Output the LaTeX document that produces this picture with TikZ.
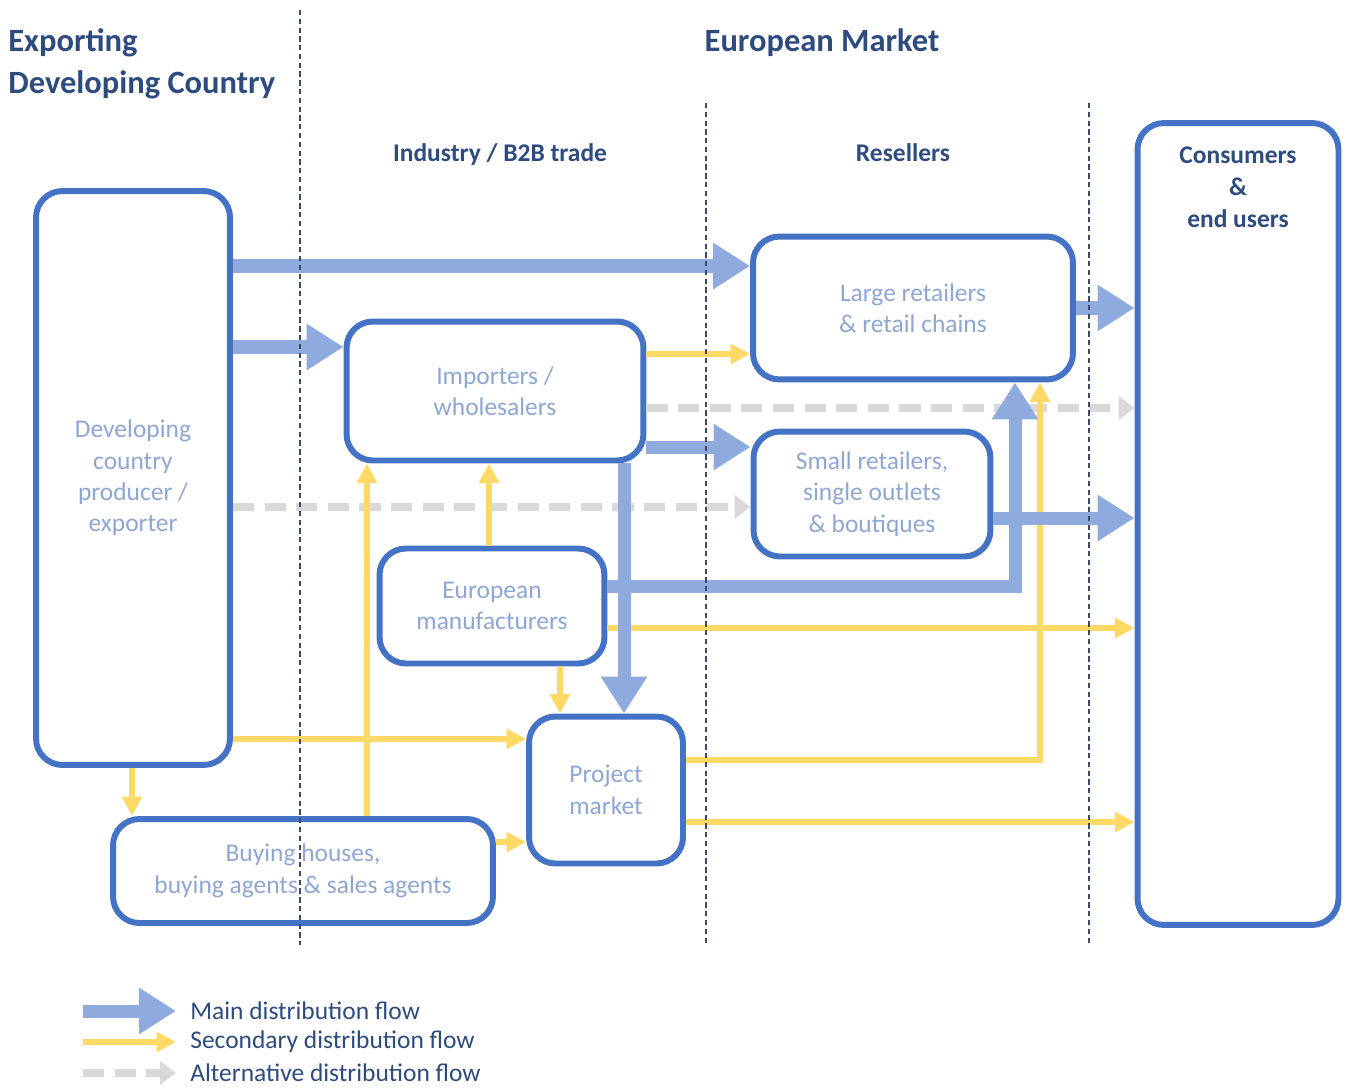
\documentclass[tikz,border=0pt]{standalone}
\usepackage{fontspec}
\setmainfont{Carlito}
\usetikzlibrary{arrows.meta}

\definecolor{boxblue}{HTML}{4472C4}
\definecolor{mainblue}{HTML}{8FAADC}
\definecolor{txtblue}{HTML}{8EA6D2}
\definecolor{headblue}{HTML}{2E4B7E}
\definecolor{secyellow}{HTML}{FFD966}
\definecolor{altgray}{HTML}{D9D9D9}
\definecolor{sepgray}{HTML}{3A4A66}

\tikzset{
	chainbox/.style={draw=boxblue, line width=3.4pt, rounded corners=15pt, align=center, text=txtblue, inner sep=0pt, font=\fontsize{14.5}{17.9}\selectfont},
	heading/.style={text=headblue, inner sep=0pt, font=\bfseries\fontsize{18.5}{23.8}\selectfont},
	subheading/.style={text=headblue, align=center, inner sep=0pt, font=\bfseries\fontsize{14.5}{18.1}\selectfont},
	legtext/.style={text=headblue, anchor=west, inner sep=0pt, font=\fontsize{14.5}{17.9}\selectfont},
	mainflow/.style={draw=mainblue, line width=7.4pt, -{Triangle[length=21pt,width=25pt]}},
	secflow/.style={draw=secyellow, line width=3.2pt, -{Triangle[length=11pt,width=11pt]}},
	altflow/.style={draw=altgray, line width=4pt, dash pattern=on 12pt off 6pt, -{Triangle[length=9pt,width=13pt]}},
	separator/.style={draw=sepgray, line width=0.6pt, dash pattern=on 3pt off 2pt}
}

\begin{document}
\begin{tikzpicture}[x=0.02cm, y=-0.02cm]

	\useasboundingbox (0,0) rectangle (1347,1088);

	% headings
	\node[heading, anchor=west, align=left] (exphead) at (8,64) {Exporting\\Developing Country};
	\node[heading] (euhead) at (822,43) {European Market};
	\node[subheading] (b2bhead) at (500,155) {Industry / B2B trade};
	\node[subheading] (reshead) at (903,153) {Resellers};

	% boxes
	\node[chainbox, minimum width=3.88cm, minimum height=11.48cm] (prod) at (133,478) {Developing\\country\\producer /\\exporter};
	\node[chainbox, minimum width=5.94cm, minimum height=2.78cm] (imp) at (495,391) {Importers /\\wholesalers};
	\node[chainbox, minimum width=6.40cm, minimum height=2.86cm] (large) at (913,308) {Large retailers\\\& retail chains};
	\node[chainbox, minimum width=4.74cm, minimum height=2.50cm] (small) at (872,494) {Small retailers,\\single outlets\\\& boutiques};
	\node[chainbox, minimum width=4.50cm, minimum height=2.30cm] (manu) at (492,606) {European\\manufacturers};
	\node[chainbox, minimum width=3.08cm, minimum height=2.94cm] (proj) at (606,790) {Project\\market};
	\node[chainbox, minimum width=7.60cm, minimum height=2.08cm] (buy) at (303,871) {Buying houses,\\buying agents \& sales agents};
	\node[chainbox, minimum width=4.02cm, minimum height=16.04cm] (cons) at (1238,524) {};
	\node[subheading] (conshead) at (1238,187) {Consumers\\\&\\end users};

	% alternative flows
	\draw[altflow] (prod.east |- 0,507) -- (small.west |- 0,507);
	\draw[altflow] (imp.east |- 0,408) -- (cons.west |- 0,408);

	% secondary flows
	\draw[secflow] (imp.east |- 0,354) -- (large.west |- 0,354);
	\draw[secflow] (buy.north -| 367,0) -- (imp.south -| 367,0);
	\draw[secflow] (manu.north -| 489,0) -- (imp.south -| 489,0);
	\draw[secflow] (manu.east |- 0,628) -- (cons.west |- 0,628);
	\draw[secflow] (manu.south -| 560,0) -- (proj.north -| 560,0);
	\draw[secflow] (prod.east |- 0,739) -- (proj.west |- 0,739);
	\draw[secflow] (prod.south -| 132,0) -- (buy.north -| 132,0);
	\draw[secflow] (buy.east |- 0,842) -- (proj.west |- 0,842);
	\draw[secflow] (proj.east |- 0,760) -| (large.south -| 1040,0);
	\draw[secflow] (proj.east |- 0,822) -- (cons.west |- 0,822);

	% main flows
	\draw[mainflow] (prod.east |- 0,266) -- (large.west |- 0,266);
	\draw[mainflow] (prod.east |- 0,347) -- (imp.west |- 0,347);
	\draw[mainflow] (imp.east |- 0,447) -- (small.west |- 0,447);
	\draw[mainflow] (large.east) -- (cons.west |- large.east);
	\draw[mainflow] (small.east |- 0,518) -- (cons.west |- 0,518);
	\draw[mainflow] (imp.south -| 624,0) -- (proj.north -| 624,0);
	\draw[mainflow] (manu.east |- 0,586) -| (large.south -| 1015,0);

	% separators
	\draw[separator] (300,10) -- (300,945);
	\draw[separator] (706,103) -- (706,945);
	\draw[separator] (1089,103) -- (1089,945);

	% legend
	\node[legtext] (lmain) at (190,1011) {Main distribution flow};
	\node[legtext] (lsec) at (190,1042) {Secondary distribution flow};
	\node[legtext] (lalt) at (190,1073) {Alternative distribution flow};
	\coordinate (lm0) at (83,1011);
	\coordinate (ls0) at (83,1042);
	\coordinate (la0) at (83,1073);
	\draw[mainflow] (lm0) -- ([xshift=-8pt]lmain.west);
	\draw[secflow] (ls0) -- ([xshift=-8pt]lsec.west);
	\draw[altflow] (la0) -- ([xshift=-8pt]lalt.west);

\end{tikzpicture}
\end{document}
